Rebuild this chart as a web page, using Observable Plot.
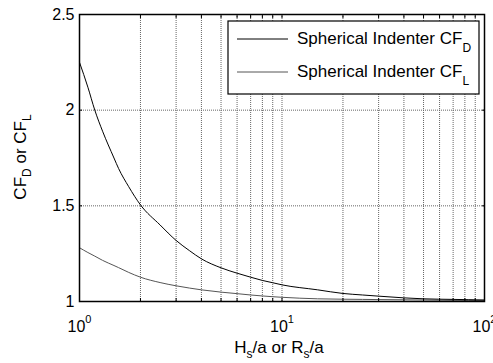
<!DOCTYPE html>
<html><head><meta charset="utf-8">
<script src="https://cdn.jsdelivr.net/npm/d3@7"></script>
<script src="https://cdn.jsdelivr.net/npm/@observablehq/plot@0.6"></script>
<style>
body{margin:0;background:#fff}
#chart{position:relative;width:493px;height:363px}
</style>
</head><body><div id="chart"></div>
<script>
const xs  = [1, 1.1, 1.19, 1.3, 1.48, 1.56, 1.75, 2, 2.5, 3, 3.5, 4, 5, 6, 7, 8, 9, 10, 15, 20, 25, 30, 40, 50, 70, 100];
const cfD = [2.25, 2.12, 2.0, 1.89, 1.75, 1.695, 1.60, 1.505, 1.40, 1.319, 1.265, 1.223, 1.176, 1.148, 1.127, 1.11, 1.098, 1.087, 1.061, 1.042, 1.034, 1.028, 1.019, 1.014, 1.011, 1.008];
const cfL = [1.281, 1.256, 1.237, 1.215, 1.188, 1.177, 1.152, 1.127, 1.099, 1.082, 1.07, 1.061, 1.049, 1.041, 1.034, 1.029, 1.025, 1.022, 1.014, 1.012, 1.011, 1.01, 1.009, 1.008, 1.006, 1.005];
const xMajor = [1, 10, 100];
const xExp = ["0", "1", "2"];
const xMinor = [2, 3, 4, 5, 6, 7, 8, 9, 20, 30, 40, 50, 60, 70, 80, 90];
const yTicks = [1, 1.5, 2, 2.5];
const yGrid = [1.5, 2];
const seriesNames = ["Spherical Indenter CF", "Spherical Indenter CF"];
const seriesSubs = ["D", "L"];
const seriesColors = ["#000000", "#555555"];

const data = xs.map((x, i) => ({x, d: cfD[i], l: cfL[i]}));
const xAll = [...xMajor, ...xMinor];
const gridStyle = {stroke: "#666", strokeDasharray: "1,1", strokeWidth: 1};
const noText = () => "";

const svg = Plot.plot({
  width: 493, height: 363,
  marginLeft: 79, marginRight: 9, marginTop: 14, marginBottom: 62,
  style: {fontFamily: "'Liberation Sans', Arial, sans-serif", fontSize: "16px", background: "#fff", color: "#000"},
  x: {type: "log", domain: [1, 100]},
  y: {domain: [1, 2.5]},
  marks: [
    Plot.ruleX([...xMinor, 10], gridStyle),
    Plot.ruleY(yGrid, gridStyle),
    Plot.line(data, {x: "x", y: "l", stroke: seriesColors[1], strokeWidth: 1, curve: "monotone-x"}),
    Plot.line(data, {x: "x", y: "d", stroke: seriesColors[0], strokeWidth: 1, curve: "monotone-x"}),
    Plot.axisX(xAll, {anchor: "bottom", tickSize: -3, tickFormat: noText, label: null}),
    Plot.axisX(xAll, {anchor: "top", tickSize: -3, tickFormat: noText, label: null}),
    Plot.axisY(yTicks, {anchor: "left", tickSize: -3, tickFormat: noText, label: null}),
    Plot.axisY(yTicks, {anchor: "right", tickSize: -3, tickFormat: noText, label: null}),
    Plot.axisX(xMajor, {anchor: "bottom", tickSize: 0, tickPadding: 19, tickFormat: () => "10", label: null, fontSize: 16}),
    Plot.axisY(yTicks, {anchor: "left", tickSize: 0, tickPadding: 5, tickFormat: d => String(d), label: null, fontSize: 16}),
    Plot.frame({stroke: "#000", strokeWidth: 1.5})
  ]
});

const s = d3.select(svg);
let k = 0;
s.selectAll('g[aria-label="x-axis tick label"] text').each(function() {
  const t = d3.select(this);
  if (t.text() !== "10") return;
  t.append("tspan").attr("dy", "-9").attr("font-size", "11px").text(xExp[k++]);
});

// x label
const xl = s.append("text").attr("x", 279).attr("y", 353).attr("text-anchor", "middle")
  .attr("font-size", "17px").attr("fill", "#000");
xl.append("tspan").text("H");
xl.append("tspan").attr("dy", 5).attr("font-size", "12px").text("s");
xl.append("tspan").attr("dy", -5).text("/a or R");
xl.append("tspan").attr("dy", 5).attr("font-size", "12px").text("s");
xl.append("tspan").attr("dy", -5).text("/a");

// y label
const yl = s.append("text").attr("transform", "translate(26,157) rotate(-90)").attr("text-anchor", "middle")
  .attr("font-size", "17px").attr("fill", "#000");
yl.append("tspan").text("CF");
yl.append("tspan").attr("dy", 5).attr("font-size", "12px").text("D");
yl.append("tspan").attr("dy", -5).text(" or CF");
yl.append("tspan").attr("dy", 5).attr("font-size", "12px").text("L");

// legend
const lg = s.append("g").attr("text-anchor", "start");
lg.append("rect").attr("x", 228).attr("y", 21).attr("width", 251).attr("height", 73)
  .attr("fill", "#fff").attr("stroke", "#000").attr("stroke-width", 1.2);
const rowsY = [39, 72];
seriesNames.forEach((name, i) => {
  lg.append("line").attr("x1", 237).attr("x2", 288).attr("y1", rowsY[i]).attr("y2", rowsY[i])
    .attr("stroke", seriesColors[i]).attr("stroke-width", 1);
  const t = lg.append("text").attr("x", 297).attr("y", rowsY[i] + 5).attr("text-anchor", "start")
    .attr("font-size", "17px").attr("fill", "#000");
  t.append("tspan").text(name);
  t.append("tspan").attr("dy", 8).attr("font-size", "12px").text(seriesSubs[i]);
});

document.getElementById("chart").appendChild(svg);
</script>
</body></html>
